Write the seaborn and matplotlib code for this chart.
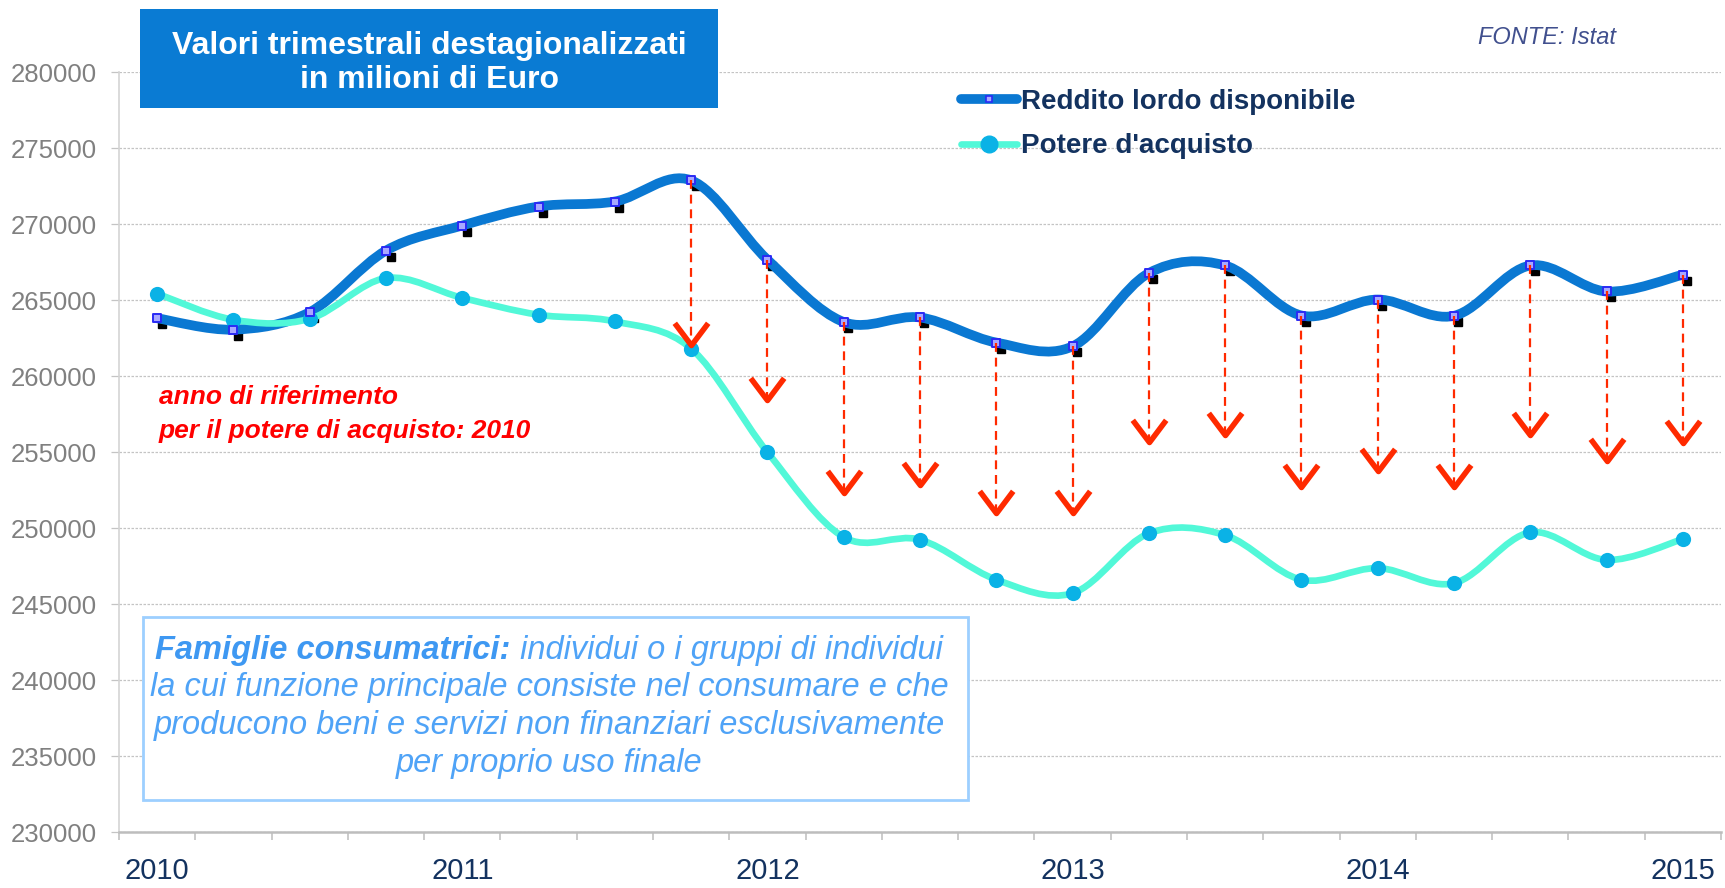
import numpy as np
import matplotlib
matplotlib.use("Agg")
import matplotlib.pyplot as plt
import matplotlib.transforms as mtransforms
from matplotlib.path import Path
from matplotlib.patches import PathPatch, Rectangle
from matplotlib.lines import Line2D
import seaborn as sns

# quarterly data, 2010Q1 .. 2015Q1 (millions of euro)
quarters = np.arange(21)
reddito = [263800, 263050, 264200, 268250, 269900, 271150, 271480, 272870,
           267650, 263550, 263850, 262200, 261950, 266770, 267270, 263980,
           265030, 263960, 267270, 265560, 266660]
potere = [265420, 263700, 263760, 266440, 265140, 264030, 263590, 261800,
          254990, 249400, 249230, 246600, 245710, 249650, 249530, 246600,
          247360, 246370, 249710, 247900, 249270]
# arrows from the income line down (from 2011Q4 on)
arrow_idx = list(range(7, 21))
arrow_tip = [262050, 258430, 252300, 252840, 250980, 250980, 255690,
             256130, 252690, 253720, 252730, 256130, 254440, 255620]
year_pos = [0, 4, 8, 12, 16, 20]
year_labels = ["2010", "2011", "2012", "2013", "2014", "2015"]
yticks = list(range(230000, 280001, 5000))

BLUE = "#0A78D2"
TEAL = "#52F8D8"
TEAL_DOT = "#0AB2E6"
RED = "#FF2A00"
NAVY = "#13325F"

sns.set_theme(style="white")
plt.rcParams["font.family"] = ["Liberation Sans", "DejaVu Sans"]


def smooth_path(x, y):
    """Catmull-Rom style bezier through the points (like Excel smoothing)."""
    p = np.column_stack([x, y]).astype(float)
    n = len(p)
    verts = [p[0]]
    codes = [Path.MOVETO]
    for i in range(n - 1):
        p_prev = p[i - 1] if i > 0 else p[i]
        p_next2 = p[i + 2] if i + 2 < n else p[i + 1]
        c1 = p[i] + (p[i + 1] - p_prev) / 6
        c2 = p[i + 1] - (p_next2 - p[i]) / 6
        verts += [c1, c2, p[i + 1]]
        codes += [Path.CURVE4] * 3
    return Path(verts, codes)


fig = plt.figure(figsize=(17.25, 8.88), dpi=100)
ax = fig.add_axes([119 / 1725, 56 / 888, 1602 / 1725, 760 / 888])

ax.set_xlim(-0.5, 20.5)
ax.set_ylim(230000, 280000)

# gridlines
ax.set_yticks(yticks)
ax.set_yticklabels([str(v) for v in yticks])
ax.yaxis.grid(True, linestyle=(0, (2, 1.2)), color="#C4C4C4", lw=0.9)
ax.set_axisbelow(True)

# smooth lines
ax.add_patch(PathPatch(smooth_path(quarters, potere), fill=False,
                       edgecolor=TEAL, lw=4.8, capstyle="round", zorder=3))
ax.add_patch(PathPatch(smooth_path(quarters, reddito), fill=False,
                       edgecolor=BLUE, lw=7, capstyle="round", zorder=2.5))

# black "shadow" squares behind the income markers
shadow = ax.transData + mtransforms.ScaledTranslation(0.045, -0.06, fig.dpi_scale_trans)
ax.plot(quarters, reddito, ls="none", marker="s", ms=5.5, color="black",
        transform=shadow, zorder=2)

# markers
sns.scatterplot(x=quarters, y=potere, ax=ax, s=120, color=TEAL_DOT,
                edgecolor=TEAL_DOT, linewidth=0, zorder=4)
sns.scatterplot(x=quarters, y=reddito, ax=ax, marker="s", s=30,
                color="#A8A8FF", edgecolor="#2A2AF5", linewidth=1.4, zorder=4)

# dashed red arrows with open chevron heads
chevron = Path([(-1, 1.33), (0, 0), (1, 1.33)],
               [Path.MOVETO, Path.LINETO, Path.LINETO])
for i, tip in zip(arrow_idx, arrow_tip):
    ax.plot([quarters[i], quarters[i]], [reddito[i], tip], color=RED,
            lw=1.6, ls=(0, (4, 2.6)), zorder=5)
ax.plot([quarters[i] for i in arrow_idx], arrow_tip, ls="none",
        marker=chevron, ms=32, mfc="none", mec=RED, mew=4, zorder=5)

# axes styling
for side in ["top", "right"]:
    ax.spines[side].set_visible(False)
ax.spines["left"].set_color("#D4D4D4")
ax.spines["left"].set_linewidth(1.2)
ax.spines["bottom"].set_color("#BDBDBD")
ax.spines["bottom"].set_linewidth(1.8)

ax.set_xticks(year_pos)
ax.set_xticklabels(year_labels)
ax.set_xticks(np.arange(-0.5, 21, 1), minor=True)
ax.tick_params(axis="x", which="major", length=0, pad=18, labelsize=21,
               labelcolor=NAVY)
ax.tick_params(axis="x", which="minor", length=6, width=1.1, color="#BDBDBD",
               direction="out", bottom=True)
ax.tick_params(axis="y", which="major", length=6, width=0.9, color="#C4C4C4",
               pad=10, labelsize=18.5, labelcolor="#808080", left=True)

# legend
handles = [
    Line2D([], [], color=BLUE, lw=7, marker="s", ms=4.5, mfc="#A8A8FF",
           mec="#2A2AF5", mew=1.2, solid_capstyle="round"),
    Line2D([], [], color=TEAL, lw=4.8, marker="o", ms=12, mfc=TEAL_DOT,
           mec=TEAL_DOT, solid_capstyle="round"),
]
leg = ax.legend(handles, ["Reddito lordo disponibile", "Potere d'acquisto"],
                loc="upper left", bbox_to_anchor=(961 / 1725, 799 / 888),
                bbox_transform=fig.transFigure, frameon=False, borderpad=0,
                borderaxespad=0, handlelength=2.0, handletextpad=0.15,
                labelspacing=0.66, prop={"size": 20, "weight": "bold"})
for t in leg.get_texts():
    t.set_color(NAVY)

# title box
fig.patches.append(Rectangle((140 / 1725, 780 / 888), 578 / 1725, 99 / 888,
                             transform=fig.transFigure, facecolor="#0A7BD3",
                             edgecolor="none", zorder=10))
fig.text(429 / 1725, 825 / 888,
         "Valori trimestrali destagionalizzati\nin milioni di Euro",
         ha="center", va="center", color="white", fontsize=23,
         fontweight="bold", linespacing=1.18, zorder=11)

fig.text(1547 / 1725, 850 / 888, "FONTE: Istat", ha="center", va="center",
         color="#41508E", fontsize=17, style="italic")

# reference-year note
fig.text(159 / 1725, (888 - 414) / 888,
         "anno di riferimento\nper il potere di acquisto: 2010",
         ha="left", va="center", color="#FF0000", fontsize=19,
         fontweight="bold", style="italic", linespacing=1.5)

# definition box
fig.patches.append(Rectangle((143 / 1725, 88 / 888), 825 / 1725, 183 / 888,
                             transform=fig.transFigure, facecolor="white",
                             edgecolor="#9DCFFF", lw=2, zorder=10))
INFO = "#4FA3F7"
cx = 549
lines = ["la cui funzione principale consiste nel consumare e che",
         "producono beni e servizi non finanziari esclusivamente",
         "per proprio uso finale"]
for k, line in enumerate(lines):
    yc = [687, 725, 763][k]
    fig.text(cx / 1725, (888 - yc) / 888, line, ha="center", va="center",
             color=INFO, fontsize=23.5, style="italic", zorder=11)

bold_part = fig.text(0, 0, "Famiglie consumatrici:", color="#3E98F2",
                     fontsize=23.5, style="italic", fontweight="bold",
                     va="center", ha="left", zorder=11)
rest_part = fig.text(0, 0, " individui o i gruppi di individui", color=INFO,
                     fontsize=23.5, style="italic", va="center", ha="left",
                     zorder=11)
renderer = fig.canvas.get_renderer()
w1 = bold_part.get_window_extent(renderer).width
w2 = rest_part.get_window_extent(renderer).width
x0 = cx - (w1 + w2) / 2
y1 = (888 - 650) / 888
bold_part.set_position((x0 / 1725, y1))
rest_part.set_position(((x0 + w1) / 1725, y1))

fig.savefig("out.png", dpi=100, facecolor="white")
